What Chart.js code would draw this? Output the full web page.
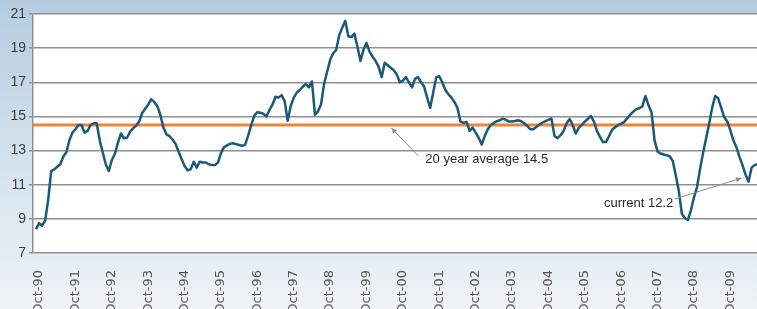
<!DOCTYPE html>
<html>
<head>
<meta charset="utf-8">
<script src="https://cdn.jsdelivr.net/npm/chart.js@4"></script>
<style>
  html, body { margin: 0; padding: 0; overflow: hidden; width: 757px; height: 309px; background: #eef3f6; }
  #wrap { width: 794px; height: 309px; }
</style>
</head>
<body>
<div id="wrap"><canvas id="myChart" width="794" height="309"></canvas></div>
<script>
// axis labels, one per October
let tickLabels = [
  "Oct-90", "Oct-91", "Oct-92", "Oct-93", "Oct-94", "Oct-95", "Oct-96",
  "Oct-97", "Oct-98", "Oct-99", "Oct-00", "Oct-01", "Oct-02", "Oct-03",
  "Oct-04", "Oct-05", "Oct-06", "Oct-07", "Oct-08", "Oct-09", "Oct-10",
];

// monthly values, starting Sep-90
let ratios = [
  8.4, 8.75, 8.6, 8.9, 10.1, 11.8, 11.9, 12.05, 12.2, 12.65,
  12.9, 13.6, 14.05, 14.25, 14.5, 14.5, 14.05, 14.15, 14.5, 14.6,
  14.6, 13.6, 12.9, 12.2, 11.8, 12.45, 12.8, 13.45, 14.0, 13.72,
  13.75, 14.1, 14.3, 14.45, 14.7, 15.2, 15.45, 15.7, 16.0, 15.85,
  15.6, 15.1, 14.35, 13.95, 13.85, 13.65, 13.4, 12.95, 12.5, 12.1,
  11.85, 11.9, 12.35, 12.0, 12.35, 12.3, 12.3, 12.2, 12.15, 12.15,
  12.3, 12.85, 13.2, 13.3, 13.4, 13.43, 13.38, 13.33, 13.28, 13.35,
  13.9, 14.5, 15.05, 15.25, 15.22, 15.15, 15.0, 15.38, 15.7, 16.15,
  16.1, 16.25, 15.9, 14.75, 15.6, 16.1, 16.4, 16.55, 16.75, 16.9,
  16.7, 17.05, 15.1, 15.3, 15.7, 16.9, 17.6, 18.3, 18.7, 18.9,
  19.75, 20.2, 20.6, 19.7, 19.65, 19.85, 19.1, 18.25, 18.9, 19.3,
  18.8, 18.5, 18.25, 17.9, 17.3, 18.15, 18.0, 17.85, 17.7, 17.45,
  17.0, 17.1, 17.3, 17.0, 16.7, 17.2, 17.3, 17.0, 16.75, 16.1,
  15.5, 16.4, 17.3, 17.35, 17.0, 16.55, 16.3, 16.1, 15.85, 15.5,
  14.7, 14.62, 14.68, 14.15, 14.35, 14.05, 13.75, 13.35, 13.85, 14.25,
  14.5, 14.62, 14.72, 14.78, 14.87, 14.8, 14.7, 14.7, 14.73, 14.78,
  14.72, 14.6, 14.45, 14.25, 14.25, 14.38, 14.52, 14.63, 14.72, 14.8,
  14.88, 13.85, 13.73, 13.9, 14.15, 14.6, 14.85, 14.5, 14.0, 14.33,
  14.5, 14.7, 14.85, 15.03, 14.7, 14.15, 13.8, 13.5, 13.5, 13.85,
  14.22, 14.36, 14.5, 14.58, 14.67, 14.9, 15.1, 15.28, 15.43, 15.48,
  15.6, 16.2, 15.65, 15.25, 13.6, 12.95, 12.83, 12.77, 12.72, 12.67,
  12.4, 11.55, 10.65, 9.3, 9.05, 8.93, 9.5, 10.25, 10.85, 11.9,
  12.85, 13.7, 14.55, 15.5, 16.2, 16.06, 15.5, 14.95, 14.7, 14.2,
  13.6, 13.2, 12.65, 12.15, 11.6, 11.18, 12.0, 12.15, 12.2,
];

let average = 14.5;
let current = 12.2;
let xMin = -1;
let xMax = 250;

let points = ratios.map((v, i) => ({ x: i, y: v }));
let avgLine = [{ x: xMin, y: average }, { x: xMax, y: average }];

const backdrop = {
  id: "backdrop",
  beforeDraw(chart) {
    const { ctx, chartArea: a, width, height } = chart;
    const g = ctx.createLinearGradient(0, 0, 0, height);
    g.addColorStop(0, "#b5cce0");
    g.addColorStop(0.5, "#d3e1ec");
    g.addColorStop(1, "#eef3f7");
    ctx.save();
    ctx.fillStyle = g;
    ctx.fillRect(0, 0, width, height);
    ctx.fillStyle = "#ffffff";
    ctx.fillRect(a.left, a.top, a.right - a.left, a.bottom - a.top);
    ctx.restore();
  },
};

function arrow(ctx, x1, y1, x2, y2) {
  ctx.beginPath();
  ctx.moveTo(x1, y1);
  ctx.lineTo(x2, y2);
  ctx.stroke();
  const ang = Math.atan2(y2 - y1, x2 - x1);
  ctx.beginPath();
  ctx.moveTo(x2, y2);
  ctx.lineTo(x2 - 6 * Math.cos(ang - 0.4), y2 - 6 * Math.sin(ang - 0.4));
  ctx.lineTo(x2 - 6 * Math.cos(ang + 0.4), y2 - 6 * Math.sin(ang + 0.4));
  ctx.closePath();
  ctx.fill();
}

const notes = {
  id: "notes",
  afterDatasetsDraw(chart) {
    const { ctx } = chart;
    const x = chart.scales.x;
    const y = chart.scales.y;
    ctx.save();
    ctx.strokeStyle = "#8a8a8a";
    ctx.fillStyle = "#8a8a8a";
    ctx.lineWidth = 1;
    arrow(ctx, x.getPixelForValue(126.1), y.getPixelForValue(12.68),
      x.getPixelForValue(117.2), y.getPixelForValue(14.32));
    arrow(ctx, x.getPixelForValue(210.6), y.getPixelForValue(10.16),
      x.getPixelForValue(232.7), y.getPixelForValue(11.39));
    ctx.fillStyle = "#2a2a2a";
    ctx.font = "13px 'Liberation Sans', Arial, sans-serif";
    ctx.textBaseline = "alphabetic";
    ctx.textAlign = "left";
    ctx.fillText("20 year average " + average, x.getPixelForValue(128.4), y.getPixelForValue(12.27));
    ctx.textAlign = "right";
    ctx.fillText("current " + current, x.getPixelForValue(210.2), y.getPixelForValue(9.69));
    ctx.restore();
  },
};

new Chart(document.getElementById("myChart"), {
  type: "line",
  data: {
    datasets: [
      {
        data: points,
        borderColor: "#195a78",
        borderWidth: 2.5,
        borderJoinStyle: "round",
        pointRadius: 0,
      },
      {
        data: avgLine,
        borderColor: "#ee8434",
        borderWidth: 3,
        pointRadius: 0,
      },
    ],
  },
  options: {
    responsive: false,
    animation: false,
    layout: { padding: { top: 14, left: 0, right: 0, bottom: 0 } },
    plugins: { legend: { display: false }, tooltip: { enabled: false } },
    scales: {
      x: {
        type: "linear",
        min: xMin,
        max: xMax,
        grid: { display: false },
        border: { display: false },
        afterBuildTicks(s) {
          s.ticks = tickLabels.map((_, k) => ({ value: 1 + 12 * k }));
        },
        ticks: {
          autoSkip: false,
          minRotation: 90,
          maxRotation: 90,
          padding: 9,
          color: "#555555",
          font: { family: "DejaVu Sans", size: 13 },
          callback: (v, i) => tickLabels[i],
        },
        afterFit(s) {
          s.height = 56;
        },
      },
      y: {
        min: 7,
        max: 21,
        ticks: {
          stepSize: 2,
          padding: 3,
          color: "#3d3d3d",
          font: { family: "Liberation Sans", size: 14 },
        },
        grid: { color: "#8f8f8f", lineWidth: 1.5, tickLength: 4 },
        border: { display: true, color: "#8f8f8f", width: 1.5 },
        afterFit(s) {
          s.width = 33;
        },
      },
    },
  },
  plugins: [backdrop, notes],
});
</script>
</body>
</html>
